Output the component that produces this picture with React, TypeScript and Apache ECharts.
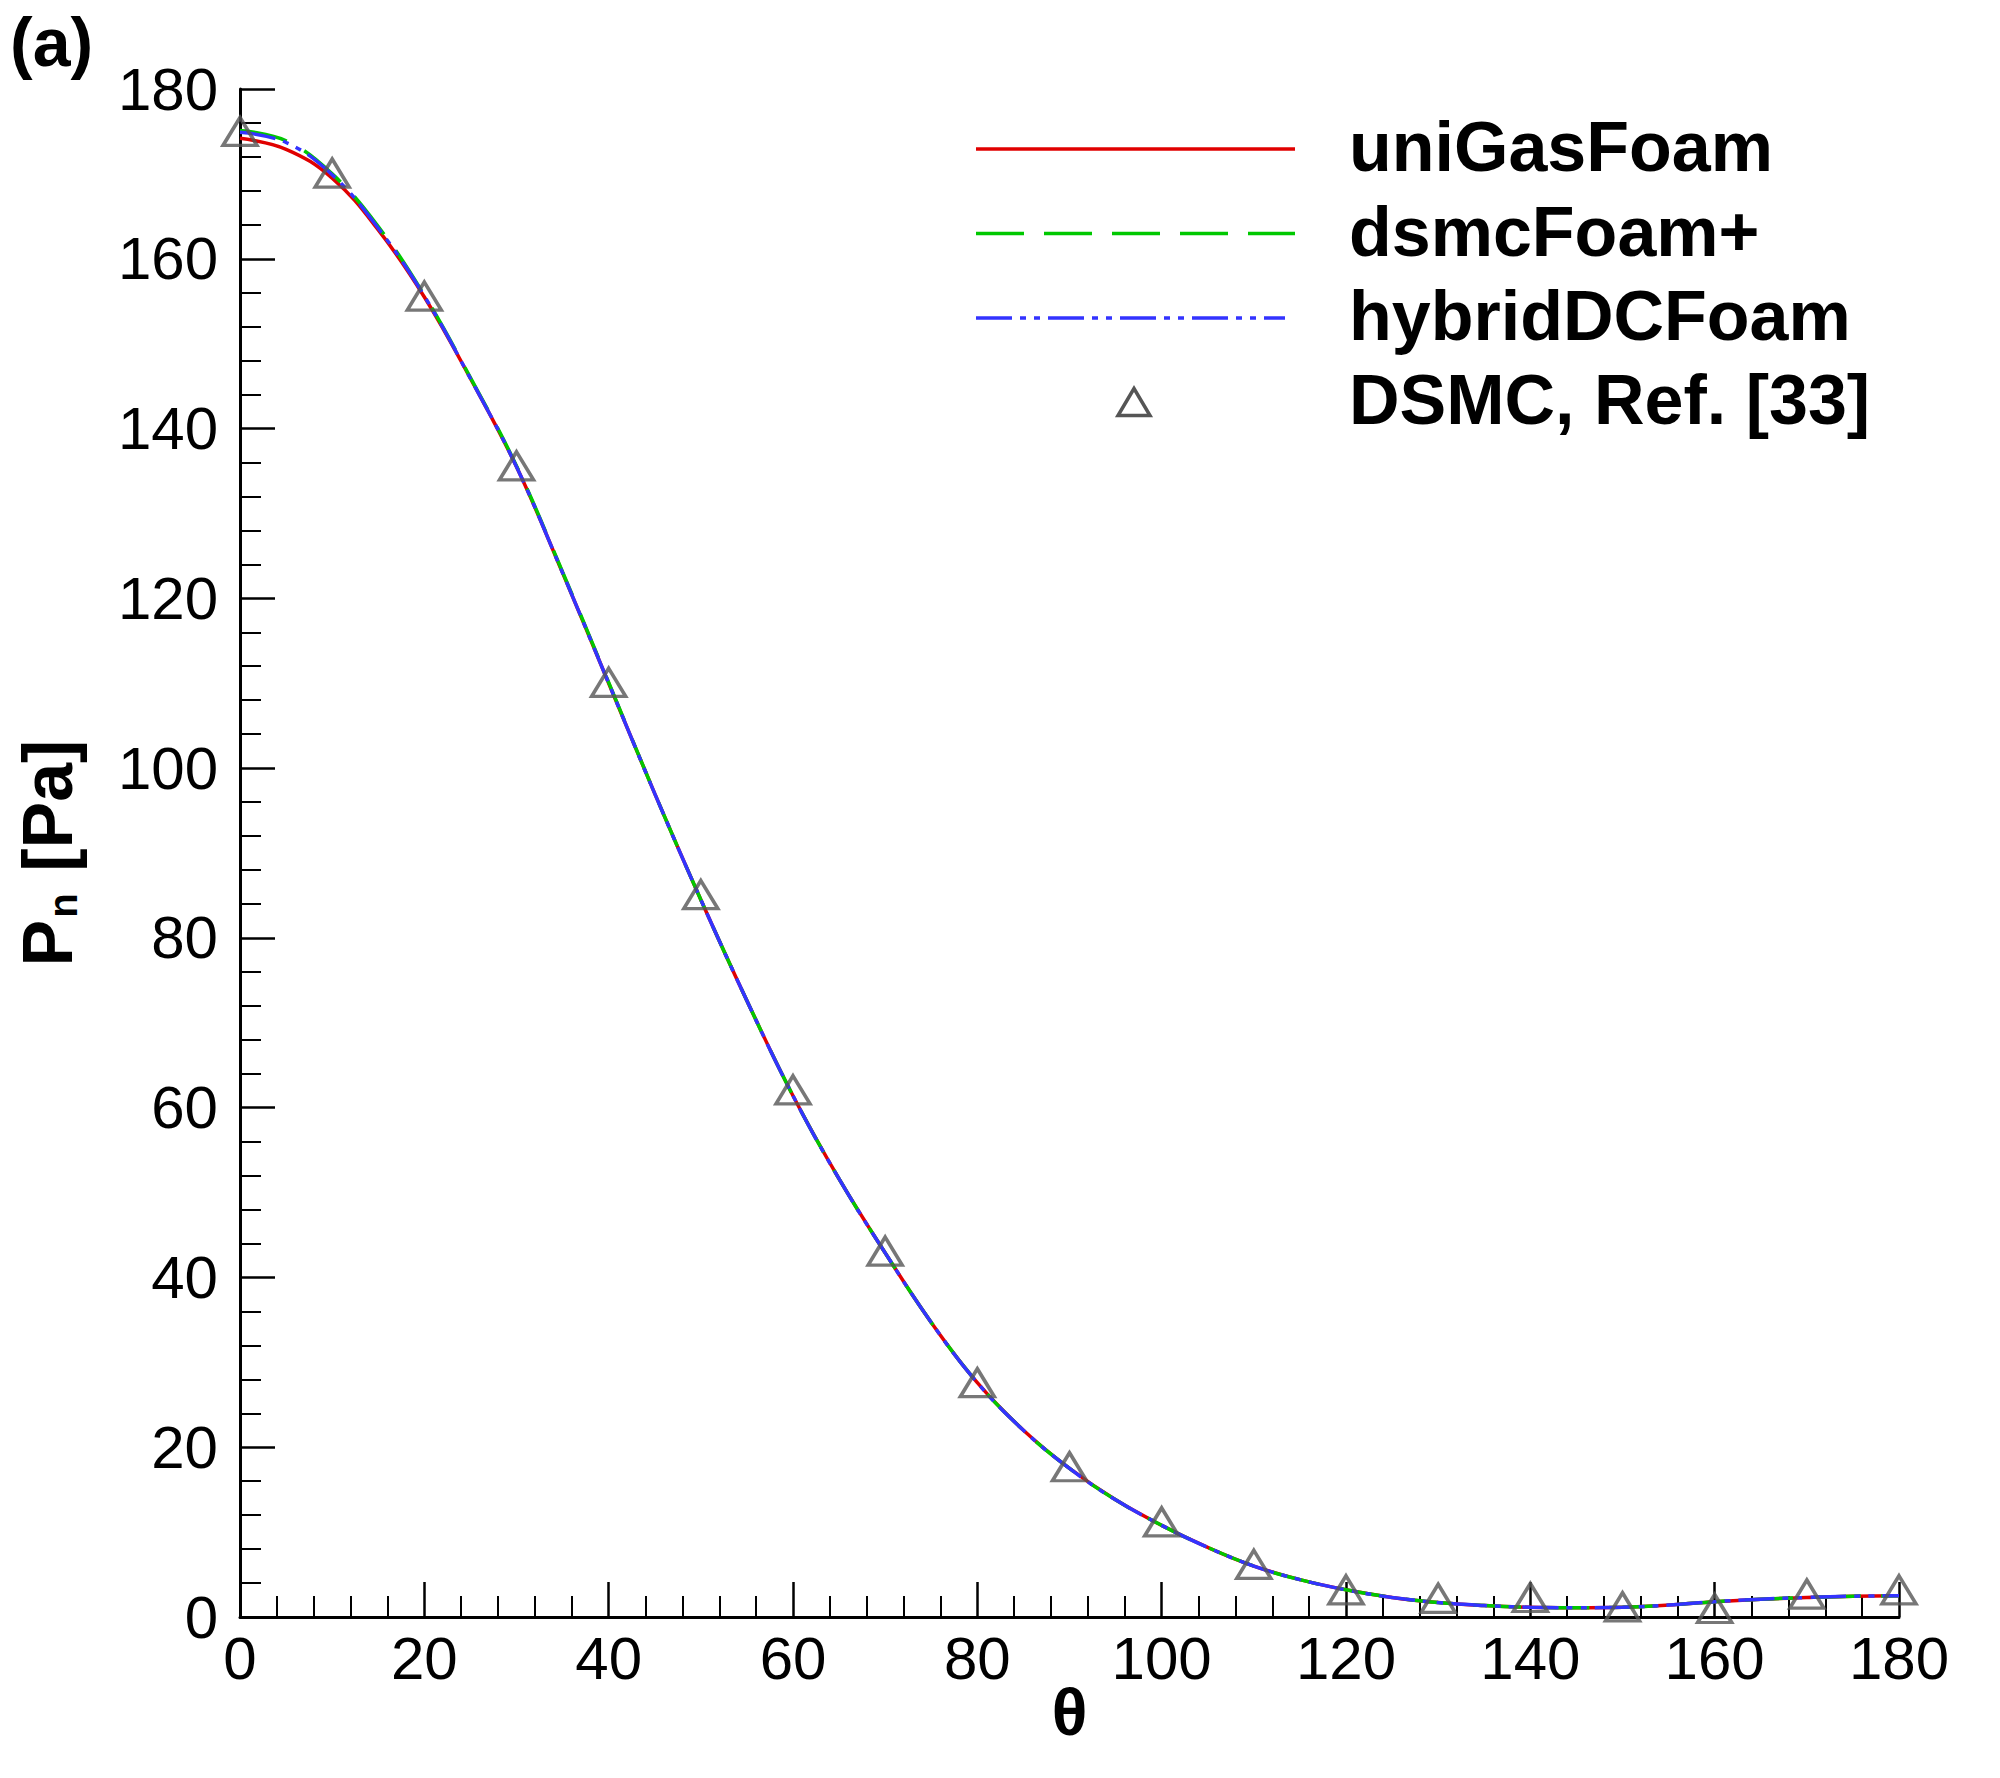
import React, { useEffect, useRef } from "react";
import * as echarts from "echarts";

// Curve sampling angles (degrees)
const thetaLine = [
  0, 5, 10, 15, 20, 25, 30, 35, 40, 45, 50, 55, 60, 65, 70, 75, 80, 85, 90, 95,
  100, 105, 110, 115, 120, 125, 130, 135, 140, 145, 150, 155, 160, 165, 170, 175, 180,
];

const uniGasFoam = [
  174.2, 172.9, 169.5, 163.4, 155.5, 145.9, 135.5, 123.0, 110.0, 97.0,
  84.5, 72.6, 61.4, 51.6, 42.9, 34.7, 27.6, 22.0, 17.5, 13.8,
  10.8, 8.2, 6.0, 4.4, 3.2, 2.3, 1.7, 1.35, 1.15, 1.1,
  1.15, 1.4, 1.8, 2.1, 2.3, 2.45, 2.5,
];

const dsmcFoamPlus = [
  175.1, 173.9, 170.0, 163.8, 155.7, 146.0, 135.6, 123.1, 110.1, 97.0,
  84.5, 72.6, 61.4, 51.6, 42.9, 34.7, 27.6, 22.0, 17.5, 13.8,
  10.8, 8.2, 6.0, 4.4, 3.2, 2.3, 1.7, 1.35, 1.15, 1.1,
  1.15, 1.4, 1.8, 2.1, 2.3, 2.45, 2.5,
];

const hybridDCFoam = [
  174.9, 173.7, 169.9, 163.6, 155.6, 145.9, 135.5, 123.0, 110.0, 97.0,
  84.5, 72.6, 61.4, 51.6, 42.9, 34.7, 27.6, 22.0, 17.5, 13.8,
  10.8, 8.2, 6.0, 4.4, 3.2, 2.3, 1.7, 1.35, 1.15, 1.1,
  1.15, 1.4, 1.8, 2.1, 2.3, 2.45, 2.5,
];

// Reference DSMC data (Ref. [33])
const thetaRef = [0, 10, 20, 30, 40, 50, 60, 70, 80, 90, 100, 110, 120, 130, 140, 150, 160, 170, 180];
const dsmcRef = [175.0, 170.1, 155.6, 135.6, 110.1, 85.1, 62.1, 43.1, 27.6, 17.7, 11.2, 6.2, 3.2, 2.2, 2.3, 1.2, 1.0, 2.7, 3.2];

const seriesNames = ["uniGasFoam", "dsmcFoam+", "hybridDCFoam", "DSMC, Ref. [33]"];

const RED = "#e00000";
const GREEN = "#00c800";
const BLUE = "#3333ff";
const GRAY = "#555555";
const FONT = "'Liberation Sans', Arial, Helvetica, sans-serif";

const GREEN_DASH = [48, 20];
const BLUE_DASH = [36, 8, 6, 8, 6, 8];

export default function App() {
  const ref = useRef<HTMLDivElement>(null);

  useEffect(() => {
    document.body.style.margin = "0";
    if (!ref.current) return;
    const chart = echarts.init(ref.current, undefined, { renderer: "svg" });

    const toPairs = (xs: number[], ys: number[]) => xs.map((x, i) => [x, ys[i]]);

    const axisCommon = {
      type: "value" as const,
      min: 0,
      max: 180,
      interval: 20,
      splitNumber: 9,
      axisLine: { show: true, onZero: false, lineStyle: { color: "#000", width: 3 } },
      axisTick: { show: true, inside: true, length: 35, lineStyle: { color: "#000", width: 2.5 } },
      minorTick: { show: true, splitNumber: 5, length: 21, lineStyle: { color: "#000", width: 2 } },
      splitLine: { show: false },
      minorSplitLine: { show: false },
      axisLabel: { color: "#000", fontSize: 60, fontFamily: FONT },
    };

    const legendRows = [149, 233.5, 318, 402];
    const lx0 = 976;
    const lx1 = 1295;
    const ltx = 1349;

    const legendGraphics: any[] = [
      {
        type: "line",
        shape: { x1: lx0, y1: legendRows[0], x2: lx1, y2: legendRows[0] },
        style: { stroke: RED, lineWidth: 3.5 },
      },
      {
        type: "line",
        shape: { x1: lx0, y1: legendRows[1], x2: lx1, y2: legendRows[1] },
        style: { stroke: GREEN, lineWidth: 3.5, lineDash: GREEN_DASH },
      },
      {
        type: "line",
        shape: { x1: lx0, y1: legendRows[2], x2: lx1 - 10, y2: legendRows[2] },
        style: { stroke: BLUE, lineWidth: 3.5, lineDash: BLUE_DASH },
      },
      {
        type: "polygon",
        shape: {
          points: [
            [1118, legendRows[3] + 13.5],
            [1150, legendRows[3] + 13.5],
            [1134, legendRows[3] - 13.5],
          ],
        },
        style: { fill: "none", stroke: GRAY, lineWidth: 3.5 },
      },
      ...seriesNames.map((n, i) => ({
        type: "text",
        left: ltx,
        top: legendRows[i] - 37,
        style: {
          text: n,
          fontSize: 70,
          fontWeight: "bold",
          fontFamily: FONT,
          fill: "#000",
        },
      })),
    ];

    chart.setOption({
      animation: false,
      backgroundColor: "#ffffff",
      title: {
        text: "(a)",
        left: 10,
        top: 8,
        padding: 0,
        textStyle: { fontSize: 68, fontWeight: "bold", fontFamily: FONT, color: "#000" },
      },
      grid: {
        left: 240,
        right: 101,
        top: 89,
        bottom: 161,
        containLabel: false,
        outerBoundsMode: "none",
      },
      xAxis: {
        ...axisCommon,
        axisLabel: { ...axisCommon.axisLabel, margin: 11 },
        name: "θ",
        nameLocation: "middle",
        nameGap: 62,
        nameMoveOverlap: false,
        nameTextStyle: { fontSize: 66, fontWeight: "bold", fontFamily: FONT, color: "#000" },
      },
      yAxis: {
        ...axisCommon,
        axisLabel: { ...axisCommon.axisLabel, margin: 22 },
        name: "{b|P}{s|n}{b| [Pa]}",
        nameLocation: "middle",
        nameRotate: 90,
        nameGap: 157,
        nameMoveOverlap: false,
        nameTextStyle: {
          color: "#000",
          rich: {
            b: { fontSize: 70, fontWeight: "bold", fontFamily: FONT, color: "#000", lineHeight: 70 },
            s: {
              fontSize: 40,
              fontWeight: "bold",
              fontFamily: FONT,
              color: "#000",
              lineHeight: 40,
              verticalAlign: "bottom",
              padding: [62, 2, 0, 2],
            },
          },
        },
      },
      graphic: legendGraphics,
      series: [
        {
          name: seriesNames[0],
          type: "line",
          data: toPairs(thetaLine, uniGasFoam),
          smooth: 0.4,
          showSymbol: false,
          lineStyle: { color: RED, width: 3.5 },
          z: 3,
        },
        {
          name: seriesNames[1],
          type: "line",
          data: toPairs(thetaLine, dsmcFoamPlus),
          smooth: 0.4,
          showSymbol: false,
          lineStyle: { color: GREEN, width: 3.5, type: GREEN_DASH },
          z: 4,
        },
        {
          name: seriesNames[2],
          type: "line",
          data: toPairs(thetaLine, hybridDCFoam),
          smooth: 0.4,
          showSymbol: false,
          lineStyle: { color: BLUE, width: 3.5, type: BLUE_DASH },
          z: 5,
        },
        {
          name: seriesNames[3],
          type: "scatter",
          data: toPairs(thetaRef, dsmcRef),
          symbol: "triangle",
          symbolSize: [34, 28],
          clip: false,
          itemStyle: { color: "none", borderColor: GRAY, borderWidth: 3.5 },
          z: 6,
        },
      ],
    });

    return () => chart.dispose();
  }, []);

  return <div ref={ref} style={{ width: "2000px", height: "1778px" }} />;
}
